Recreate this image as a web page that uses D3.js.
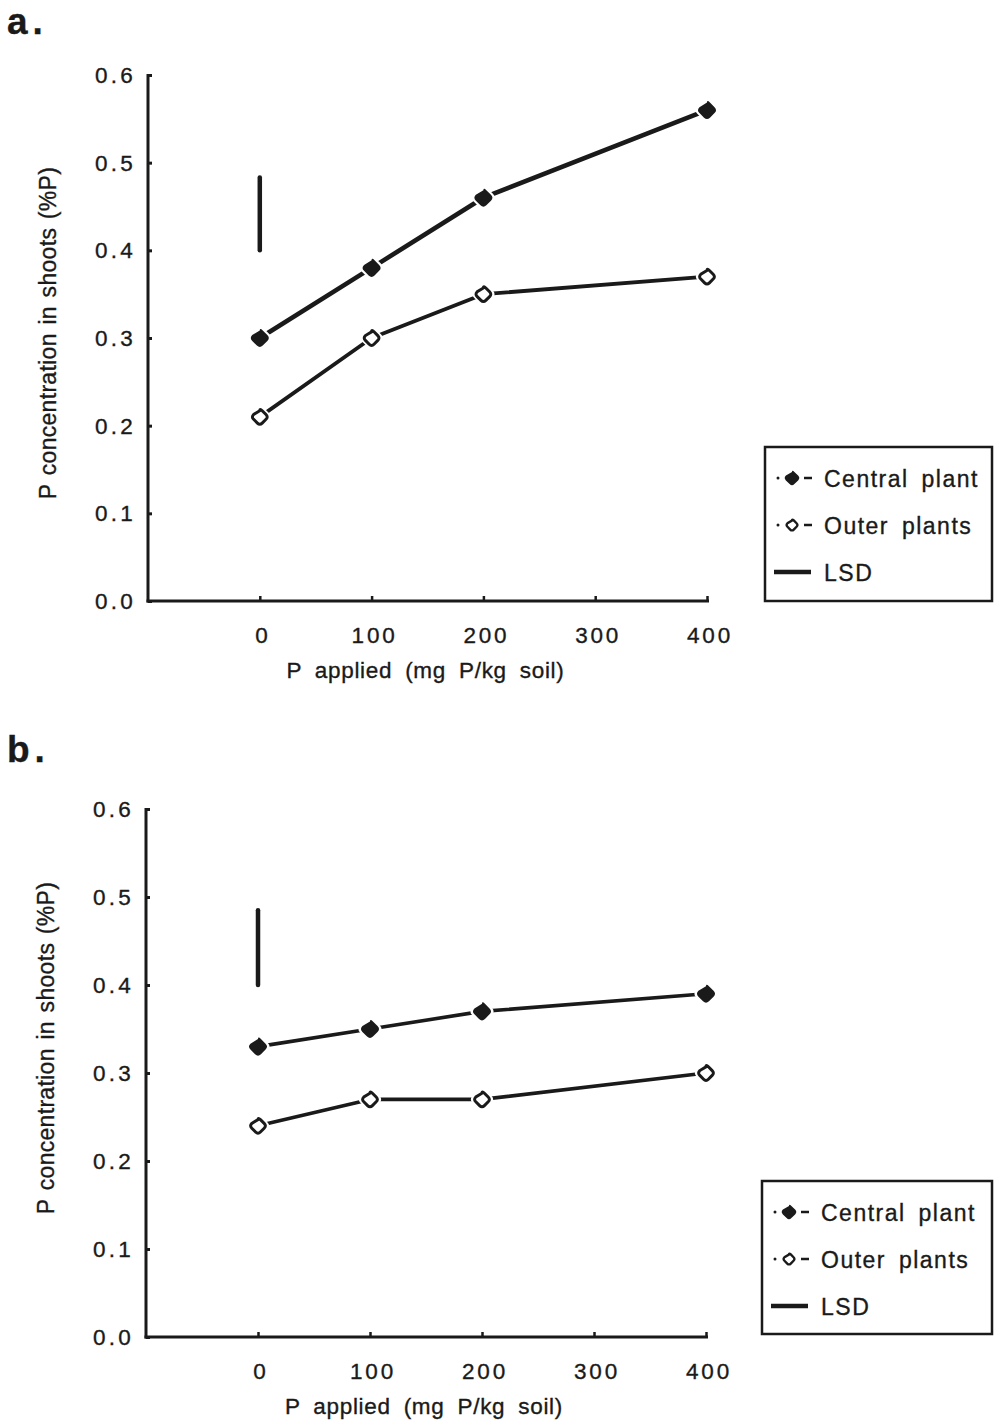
<!DOCTYPE html>
<html>
<head>
<meta charset="utf-8">
<script src="https://cdn.jsdelivr.net/npm/d3@7"></script>
<style>
  html, body { margin: 0; padding: 0; background: #fff; }
  svg { display: block; }
  text { font-family: "Liberation Sans", Arial, Helvetica, sans-serif; fill: #1a1a1a; stroke: #1a1a1a; stroke-width: 0.35px; }
</style>
</head>
<body>
<svg id="fig" width="994" height="1421"></svg>
<script>
// P rates applied to the soil (mg P/kg soil)
const doseLevels = [0, 100, 200, 400];
const xTickValues = [0, 100, 200, 300, 400];
const yTickValues = [0.0, 0.1, 0.2, 0.3, 0.4, 0.5, 0.6];

// Shoot P concentration (%P), panel a
const centralA = [0.30, 0.38, 0.46, 0.56];
const outerA = [0.21, 0.30, 0.35, 0.37];
const lsdA = [0.40, 0.483];

// Shoot P concentration (%P), panel b
const centralB = [0.33, 0.35, 0.37, 0.39];
const outerB = [0.24, 0.27, 0.27, 0.30];
const lsdB = [0.40, 0.485];

const legendLabels = ["Central plant", "Outer plants", "LSD"];
const panelLetters = ["a.", "b."];
const xTitle = "P applied (mg P/kg soil)";
const yTitle = "P concentration in shoots (%P)";

const svg = d3.select("#fig");
const ink = "#1a1a1a";

// Rounded diamond path centred at 0,0
function diamondPath(r) {
  const c = r * 0.28;
  return `M0,${-r + c} Q0,${-r} ${c},${-r + c} L${r - c},${-c} Q${r},0 ${r - c},${c} ` +
         `L${c},${r - c} Q0,${r} ${-c},${r - c} L${-r + c},${c} Q${-r},0 ${-r + c},${-c} Z`;
}

function drawPanel(opt) {
  const g = svg.append("g");
  const x = d3.scaleLinear().domain([-100, 400]).range([opt.left, opt.right]);
  const y = d3.scaleLinear().domain([0, 0.6]).range([opt.bottom, opt.top]);

  // panel letter
  g.append("text").attr("x", 7).attr("y", opt.letterY)
    .style("font-size", "37px").style("font-weight", "bold")
    .style("letter-spacing", "5px")
    .text(opt.letter);

  // y axis with inward ticks
  const yAxis = d3.axisRight(y).tickValues(yTickValues).tickSize(4).tickFormat("");
  const ya = g.append("g").attr("transform", `translate(${opt.left},0)`).call(yAxis);
  ya.select(".domain").remove();
  ya.selectAll(".tick line").attr("stroke", ink).attr("stroke-width", 3);
  g.append("line")
    .attr("x1", opt.left).attr("x2", opt.left)
    .attr("y1", y(0.6) - 1).attr("y2", y(0) + 1.5)
    .attr("stroke", ink).attr("stroke-width", 3);

  // x axis with inward ticks
  const xAxis = d3.axisTop(x).tickValues(xTickValues).tickSize(5).tickFormat("");
  const xa = g.append("g").attr("transform", `translate(0,${opt.bottom})`).call(xAxis);
  xa.select(".domain").remove();
  xa.selectAll(".tick line").attr("stroke", ink).attr("stroke-width", 2.5);
  g.append("line")
    .attr("x1", opt.left - 1.5).attr("x2", x(400) + 2)
    .attr("y1", opt.bottom).attr("y2", opt.bottom)
    .attr("stroke", ink).attr("stroke-width", 3);

  // tick labels
  g.selectAll(".ylab").data(yTickValues).enter().append("text")
    .attr("x", opt.left - 12).attr("y", d => y(d) + 8)
    .attr("text-anchor", "end")
    .style("font-size", "22.5px").style("letter-spacing", "3.2px")
    .text(d => d3.format(".1f")(d));

  g.selectAll(".xlab").data(xTickValues).enter().append("text")
    .attr("x", d => x(d) + 3).attr("y", opt.bottom + 42)
    .attr("text-anchor", "middle")
    .style("font-size", "22.5px").style("letter-spacing", "2.8px")
    .text(d => d);

  // axis titles
  g.append("text")
    .attr("x", x(150) - 2).attr("y", opt.bottom + 77)
    .attr("text-anchor", "middle")
    .style("font-size", "22.5px").style("letter-spacing", "0.7px").style("word-spacing", "6px")
    .text(xTitle);

  g.append("text")
    .attr("transform", `translate(${opt.yTitleX},${opt.yTitleY}) rotate(-90)`)
    .attr("text-anchor", "middle")
    .style("font-size", "23px").style("letter-spacing", "0.3px").style("word-spacing", "2px")
    .text(yTitle);

  // LSD bar
  g.append("line")
    .attr("x1", x(0)).attr("x2", x(0))
    .attr("y1", y(opt.lsd[1])).attr("y2", y(opt.lsd[0]))
    .attr("stroke", ink).attr("stroke-width", 4.5).attr("stroke-linecap", "round");

  const line = d3.line().x((d, i) => x(doseLevels[i])).y(d => y(d));

  const series = [
    { values: opt.central, filled: true, width: opt.centralWidth },
    { values: opt.outer, filled: false, width: opt.outerWidth }
  ];

  series.forEach(s => {
    g.append("path").datum(s.values)
      .attr("d", line)
      .attr("fill", "none").attr("stroke", ink)
      .attr("stroke-width", s.width).attr("stroke-linejoin", "round");
  });

  // markers, each sitting in a small white gap on its line
  series.forEach(s => {
    const m = g.selectAll(null).data(s.values).enter().append("g")
      .attr("transform", (d, i) => `translate(${x(doseLevels[i])},${y(d)})`);
    m.append("path").attr("d", diamondPath(s.filled ? 13.5 : 13)).attr("fill", "#fff");
    if (s.filled) {
      m.append("path").attr("d", diamondPath(10.5)).attr("fill", ink);
    } else {
      m.append("path").attr("d", diamondPath(8.6)).attr("fill", "#fff")
        .attr("stroke", ink).attr("stroke-width", 3);
    }
  });

  // legend
  const lg = g.append("g").attr("transform", `translate(${opt.legend.x},${opt.legend.y})`);
  lg.append("rect").attr("x", 0).attr("y", 0)
    .attr("width", opt.legend.w).attr("height", opt.legend.h)
    .attr("fill", "#fff").attr("stroke", ink).attr("stroke-width", 2.5);
  const rowY = [31, 78, 125];
  legendLabels.forEach((lab, i) => {
    const row = lg.append("g").attr("transform", `translate(0,${rowY[i]})`);
    row.append("text").attr("x", 59).attr("y", 8.5)
      .style("font-size", "23px").style("word-spacing", "5px").style("letter-spacing", "1.5px")
      .text(lab);
    if (i < 2) {
      row.append("circle").attr("cx", 13).attr("cy", 0).attr("r", 1.5).attr("fill", ink);
      row.append("line").attr("x1", 39).attr("x2", 47).attr("y1", 0).attr("y2", 0)
        .attr("stroke", ink).attr("stroke-width", 2.5);
      if (i === 0) {
        row.append("path").attr("transform", "translate(27,0)").attr("d", diamondPath(8.5)).attr("fill", ink);
      } else {
        row.append("path").attr("transform", "translate(27,0)").attr("d", diamondPath(6.3))
          .attr("fill", "#fff").attr("stroke", ink).attr("stroke-width", 2.4);
      }
    } else {
      row.append("line").attr("x1", 9).attr("x2", 46).attr("y1", 0).attr("y2", 0)
        .attr("stroke", ink).attr("stroke-width", 4.5);
    }
  });
}

drawPanel({
  letter: panelLetters[0], letterY: 34,
  left: 148, right: 707, top: 75, bottom: 601,
  yTitleX: 56, yTitleY: 333,
  central: centralA, outer: outerA, lsd: lsdA,
  centralWidth: 4.6, outerWidth: 3.8,
  legend: { x: 765, y: 447, w: 227, h: 154 }
});

drawPanel({
  letter: panelLetters[1], letterY: 762,
  left: 146, right: 706, top: 809, bottom: 1337,
  yTitleX: 54, yTitleY: 1048,
  central: centralB, outer: outerB, lsd: lsdB,
  centralWidth: 3.6, outerWidth: 3.6,
  legend: { x: 762, y: 1181, w: 230, h: 153 }
});
</script>
</body>
</html>
